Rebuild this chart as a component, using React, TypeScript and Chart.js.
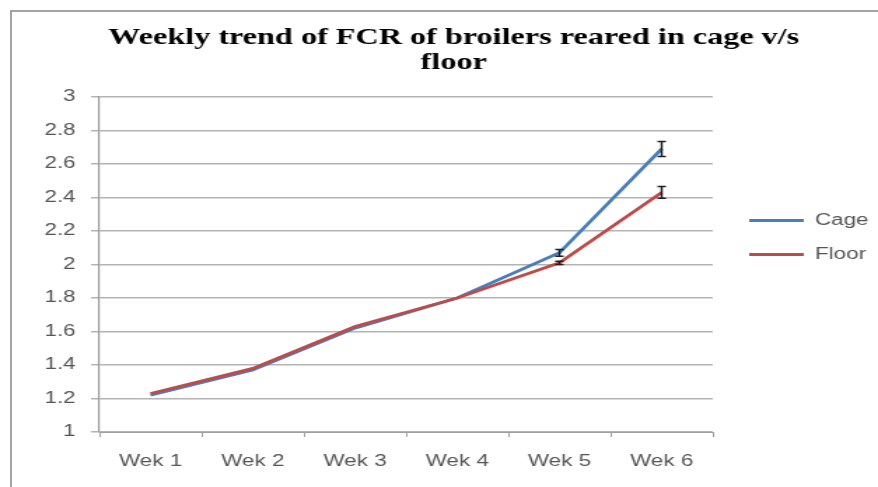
import React, { useEffect, useRef } from 'react';
import { Chart, registerables } from 'chart.js';

Chart.register(...registerables);

// ---- data ----
const weeks = ['Wek 1', 'Wek 2', 'Wek 3', 'Wek 4', 'Wek 5', 'Wek 6'];
const cageFcr = [1.22, 1.37, 1.62, 1.8, 2.07, 2.69];
const floorFcr = [1.23, 1.38, 1.63, 1.8, 2.01, 2.43];
const cageErr = [0, 0, 0, 0, 0.02, 0.045];
const floorErr = [0, 0, 0, 0, 0.01, 0.035];
const seriesNames = ['Cage', 'Floor'];
const titleLines = ['Weekly trend of FCR of broilers reared in cage v/s', 'floor'];
const yMin = 1;
const yMax = 3;
const yStep = 0.2;

const STRETCH_W = 627; // internal canvas width, shown stretched to 878px
const CSS_W = 878;
const CSS_H = 487;

const errorBarPlugin = {
  id: 'errorBars',
  afterDatasetsDraw(chart: any) {
    const { ctx } = chart;
    const yScale = chart.scales.y;
    chart.data.datasets.forEach((ds: any, di: number) => {
      const meta = chart.getDatasetMeta(di);
      const errs: number[] = ds.errors || [];
      meta.data.forEach((pt: any, i: number) => {
        const e = errs[i];
        if (!e) return;
        const v = ds.data[i];
        const top = yScale.getPixelForValue(v + e);
        const bot = yScale.getPixelForValue(v - e);
        ctx.save();
        ctx.strokeStyle = '#1e1e1e';
        ctx.lineWidth = 1.5;
        ctx.beginPath();
        ctx.moveTo(pt.x, top);
        ctx.lineTo(pt.x, bot);
        ctx.moveTo(pt.x - 3, top);
        ctx.lineTo(pt.x + 3, top);
        ctx.moveTo(pt.x - 3, bot);
        ctx.lineTo(pt.x + 3, bot);
        ctx.stroke();
        ctx.restore();
      });
    });
  },
};

export default function App() {
  const ref = useRef<HTMLCanvasElement | null>(null);

  useEffect(() => {
    document.body.style.margin = '0';
    const canvas = ref.current!;
    const tickFont = { family: "'Liberation Sans', Arial, sans-serif", size: 16 };
    const chart = new Chart(canvas, {
      type: 'line',
      data: {
        labels: weeks,
        datasets: [
          {
            label: seriesNames[0],
            data: cageFcr,
            errors: cageErr,
            borderColor: '#4a7ebb',
            backgroundColor: '#4a7ebb',
            borderWidth: 2.8,
            pointRadius: 0,
            tension: 0,
            order: 1,
          } as any,
          {
            label: seriesNames[1],
            data: floorFcr,
            errors: floorErr,
            borderColor: '#be4b48',
            backgroundColor: '#be4b48',
            borderWidth: 2.8,
            pointRadius: 0,
            tension: 0,
            order: 0,
          } as any,
        ],
      },
      options: {
        responsive: false,
        animation: false,
        events: [],
        layout: { padding: { left: 21, right: 0, top: 0, bottom: 12 } },
        plugins: {
          title: {
            display: true,
            text: titleLines,
            color: '#000',
            font: {
              family: "'Liberation Serif', 'Times New Roman', serif",
              size: 23,
              weight: 'bold',
              lineHeight: 1.087,
            },
            padding: { top: 25.5, bottom: 21.5 },
          },
          legend: {
            position: 'right',
            align: 'center',
            maxWidth: 110,
            labels: {
              boxWidth: 39,
              boxHeight: 3,
              padding: 18,
              color: '#555',
              font: tickFont,
              sort: (a: any, b: any) => a.datasetIndex - b.datasetIndex,
              generateLabels: (c: any) =>
                (Chart.defaults.plugins.legend.labels as any)
                  .generateLabels(c)
                  .map((l: any) => ({ ...l, lineWidth: 0 })),
            },
          },
          tooltip: { enabled: false },
        },
        scales: {
          x: {
            type: 'category',
            offset: true,
            grid: {
              display: true,
              offset: true,
              drawOnChartArea: false,
              drawTicks: true,
              tickLength: 5,
              color: '#a0a0a0',
            },
            border: { display: true, color: '#a0a0a0', width: 1 },
            ticks: { color: '#555', font: tickFont, padding: 15, maxRotation: 0 },
            afterFit: (s: any) => {
              s.height = 43;
            },
          },
          y: {
            type: 'linear',
            min: yMin,
            max: yMax,
            ticks: {
              stepSize: yStep,
              color: '#555',
              font: tickFont,
              padding: 11,
              callback: (v: any) => String(Number(Number(v).toFixed(1))),
            },
            grid: { color: '#b4b4b4', lineWidth: 1.5, drawTicks: true, tickLength: 6 },
            border: { display: true, color: '#9a9a9a', width: 1.2 },
            afterFit: (s: any) => {
              s.width = 50;
            },
          },
          spacer: {
            type: 'linear',
            position: 'right',
            display: true,
            grid: { display: false, drawTicks: false },
            border: { display: false },
            ticks: { display: false },
            afterFit: (s: any) => {
              s.width = 8;
            },
          },
        },
      } as any,
      plugins: [errorBarPlugin],
    });
    return () => chart.destroy();
  }, []);

  return (
    <div style={{ position: 'relative', width: CSS_W, height: CSS_H, overflow: 'hidden', background: '#fff' }}>
      <canvas
        ref={ref}
        width={STRETCH_W}
        height={CSS_H}
        style={{ width: CSS_W + 'px', height: CSS_H + 'px', display: 'block' }}
      />
      <div
        style={{
          position: 'absolute',
          left: 10,
          top: 10,
          width: 2000,
          height: 2000,
          borderLeft: '2px solid #a3a3a3',
          borderTop: '2px solid #a3a3a3',
          pointerEvents: 'none',
        }}
      />
    </div>
  );
}
